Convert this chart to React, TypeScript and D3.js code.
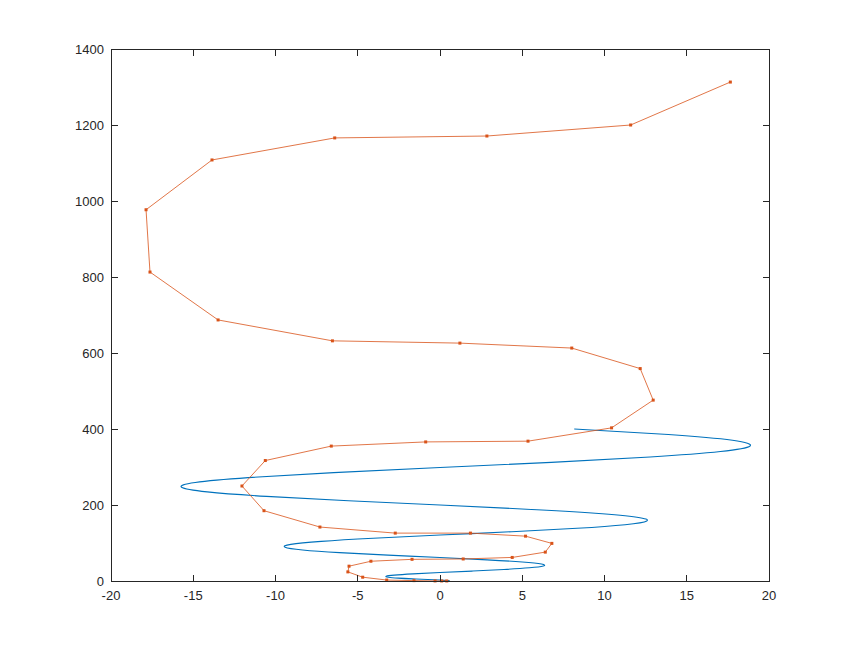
import React from "react";
import * as d3 from "d3";

// Blue curve: points read along the smooth spiral (x, y)
const blueX = [0, 0.36, 0.56, 0.45, 0, -0.75, -1.67, -2.54, -3.14, -3.27, -2.78, -1.65, 0, 1.95, 3.89, 5.44, 6.28, 6.17, 5.0, 2.86, 0, -3.16, -6.11, -8.35, -9.42, -9.07, -7.22, -4.06, 0, 4.36, 8.33, 11.25, 12.57, 11.97, 9.44, 5.26, 0, -5.56, -10.55, -14.15, -15.71, -14.88, -11.66, -6.46, 0, 6.76, 12.77, 17.05, 18.85, 17.78, 13.88, 8.16];
const blueY = [0, 0.15, 0.62, 1.39, 2.47, 3.86, 5.55, 7.56, 9.87, 12.49, 15.42, 18.66, 22.21, 26.06, 30.23, 34.7, 39.48, 44.57, 49.97, 55.67, 61.69, 68.01, 74.64, 81.58, 88.83, 96.38, 104.25, 112.42, 120.9, 129.69, 138.79, 148.2, 157.91, 167.94, 178.27, 188.91, 199.86, 211.12, 222.68, 234.56, 246.74, 259.23, 272.03, 285.14, 298.56, 312.28, 326.32, 340.66, 355.31, 370.27, 385.53, 400];

// Orange polyline with markers
const orangeX = [0.41, 0.1, -0.3, -1.58, -3.24, -4.7, -5.6, -5.53, -4.2, -1.7, 1.41, 4.39, 6.4, 6.8, 5.2, 1.85, -2.72, -7.3, -10.7, -12.04, -10.62, -6.61, -0.87, 5.35, 10.43, 12.96, 12.17, 8.01, 1.21, -6.54, -13.49, -17.63, -17.87, -13.86, -6.4, 2.85, 11.59, 17.65];
const orangeY = [0.1, 0.1, 0.2, 1, 2.5, 10, 24, 39, 52, 57, 58, 62, 76, 99, 118, 126, 126, 142, 185, 250, 317, 355, 366, 368, 403, 476, 559, 613, 626, 632, 687, 813, 977, 1108, 1166, 1171, 1200, 1313];

const xTicks = [-20, -15, -10, -5, 0, 5, 10, 15, 20];
const yTicks = [0, 200, 400, 600, 800, 1000, 1200, 1400];

export default function App() {
  const W = 851, H = 654;
  const left = 111, right = 769, top = 49, bottom = 581;
  const x = d3.scaleLinear().domain([-20, 20]).range([left, right]);
  const y = d3.scaleLinear().domain([0, 1400]).range([bottom, top]);
  const tl = 6.5;
  const axisColor = "#262626";
  const font = "'Liberation Sans', Arial, sans-serif";

  const blue: [number, number][] = blueX.map((v, i) => [v, blueY[i]]);
  const orange: [number, number][] = orangeX.map((v, i) => [v, orangeY[i]]);

  const blueLine = d3.line<[number, number]>()
    .x((d) => x(d[0]))
    .y((d) => y(d[1]))
    .curve(d3.curveNatural);
  const orangeLine = d3.line<[number, number]>()
    .x((d) => x(d[0]))
    .y((d) => y(d[1]));

  return (
    <svg width={W} height={H} style={{ position: "absolute", left: 0, top: 0, background: "#fff" }}>
      <rect x={0} y={0} width={W} height={H} fill="#fff" />
      <path d={blueLine(blue) || ""} fill="none" stroke="#0072BD" strokeWidth={1.1} />
      <path d={orangeLine(orange) || ""} fill="none" stroke="#D95319" strokeWidth={0.8} />
      {orange.map((d, i) => (
        <rect key={i} x={x(d[0]) - 1.5} y={y(d[1]) - 1.5} width={3} height={3} fill="#D95319" />
      ))}
      {/* box */}
      <rect x={left} y={top} width={right - left} height={bottom - top} fill="none" stroke={axisColor} strokeWidth={1} shapeRendering="crispEdges" />
      {xTicks.map((t) => (
        <g key={"x" + t}>
          <line x1={x(t)} x2={x(t)} y1={bottom} y2={bottom - tl} stroke={axisColor} shapeRendering="crispEdges" />
          <line x1={x(t)} x2={x(t)} y1={top} y2={top + tl} stroke={axisColor} shapeRendering="crispEdges" />
          <text x={x(t)} y={600} textAnchor="middle" fontFamily={font} fontSize={13} fill={axisColor}>{t}</text>
        </g>
      ))}
      {yTicks.map((t) => (
        <g key={"y" + t}>
          <line x1={left} x2={left + tl} y1={y(t)} y2={y(t)} stroke={axisColor} shapeRendering="crispEdges" />
          <line x1={right} x2={right - tl} y1={y(t)} y2={y(t)} stroke={axisColor} shapeRendering="crispEdges" />
          <text x={104} y={y(t) + 4.6} textAnchor="end" fontFamily={font} fontSize={13} fill={axisColor}>{t}</text>
        </g>
      ))}
    </svg>
  );
}
